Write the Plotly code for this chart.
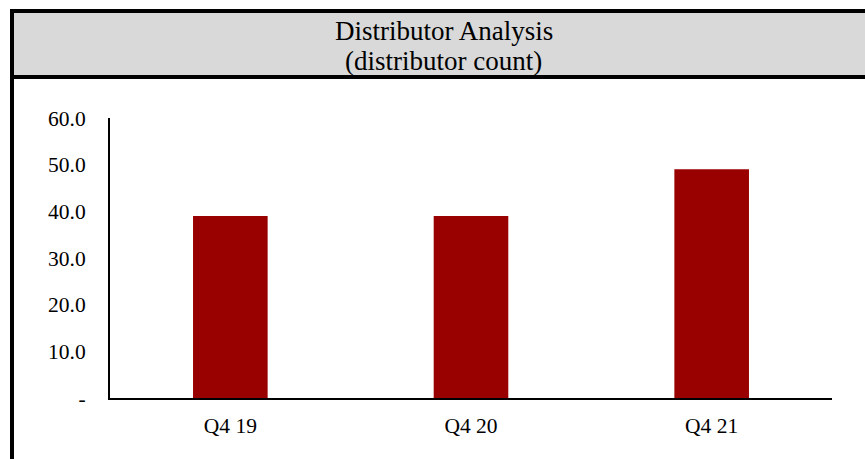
import plotly.graph_objects as go

categories = ["Q4 19", "Q4 20", "Q4 21"]
values = [39.0, 39.0, 49.0]
y_tickvals = [0, 10, 20, 30, 40, 50, 60]
y_ticktext = ["-", "10.0", "20.0", "30.0", "40.0", "50.0", "60.0"]
title_lines = ["Distributor Analysis", "(distributor count)"]

W, H = 865, 459
FONT = "Liberation Serif"

def px(x):
    return x / W

def py(y):
    return 1 - y / H

fig = go.Figure(go.Bar(
    x=categories, y=values, marker=dict(color="#990000", line=dict(width=0)),
    width=0.31,
))

shapes = [
    dict(type="rect", xref="paper", yref="paper", x0=px(12), x1=1.0, y0=py(77), y1=py(11),
         fillcolor="#D9D9D9", line=dict(width=0), layer="below"),
    dict(type="line", xref="paper", yref="paper", x0=px(10), x1=1.0, y0=py(11), y1=py(11),
         line=dict(color="black", width=4)),
    dict(type="line", xref="paper", yref="paper", x0=px(10), x1=1.0, y0=py(77), y1=py(77),
         line=dict(color="black", width=4)),
    dict(type="line", xref="paper", yref="paper", x0=px(12), x1=px(12), y0=0, y1=py(9),
         line=dict(color="black", width=4)),
]

annotations = [
    dict(text=title_lines[0], xref="paper", yref="paper", x=px(444), y=py(31),
         showarrow=False, font=dict(family=FONT, size=27, color="black"), xanchor="center", yanchor="middle"),
    dict(text=title_lines[1], xref="paper", yref="paper", x=px(444), y=py(61),
         showarrow=False, font=dict(family=FONT, size=27, color="black"), xanchor="center", yanchor="middle"),
]

fig.update_layout(
    width=W, height=H,
    margin=dict(l=0, r=0, t=0, b=0),
    paper_bgcolor="white", plot_bgcolor="white",
    showlegend=False,
    shapes=shapes, annotations=annotations,
    font=dict(family=FONT, size=21.5, color="black"),
    xaxis=dict(domain=[px(110), px(832)], showline=True, linecolor="black", linewidth=2,
               showgrid=False, ticks="", ticklabelstandoff=7, automargin=False,
               tickfont=dict(family=FONT, size=21.5, color="black")),
    yaxis=dict(domain=[py(398), py(118)], range=[0, 60], showline=True, linecolor="black", linewidth=2,
               showgrid=False, zeroline=False, tickvals=y_tickvals, ticktext=y_ticktext,
               ticks="", ticklabelstandoff=18, automargin=False,
               tickfont=dict(family=FONT, size=21.5, color="black")),
    bargap=0.69,
)

fig.write_html("out.html")
